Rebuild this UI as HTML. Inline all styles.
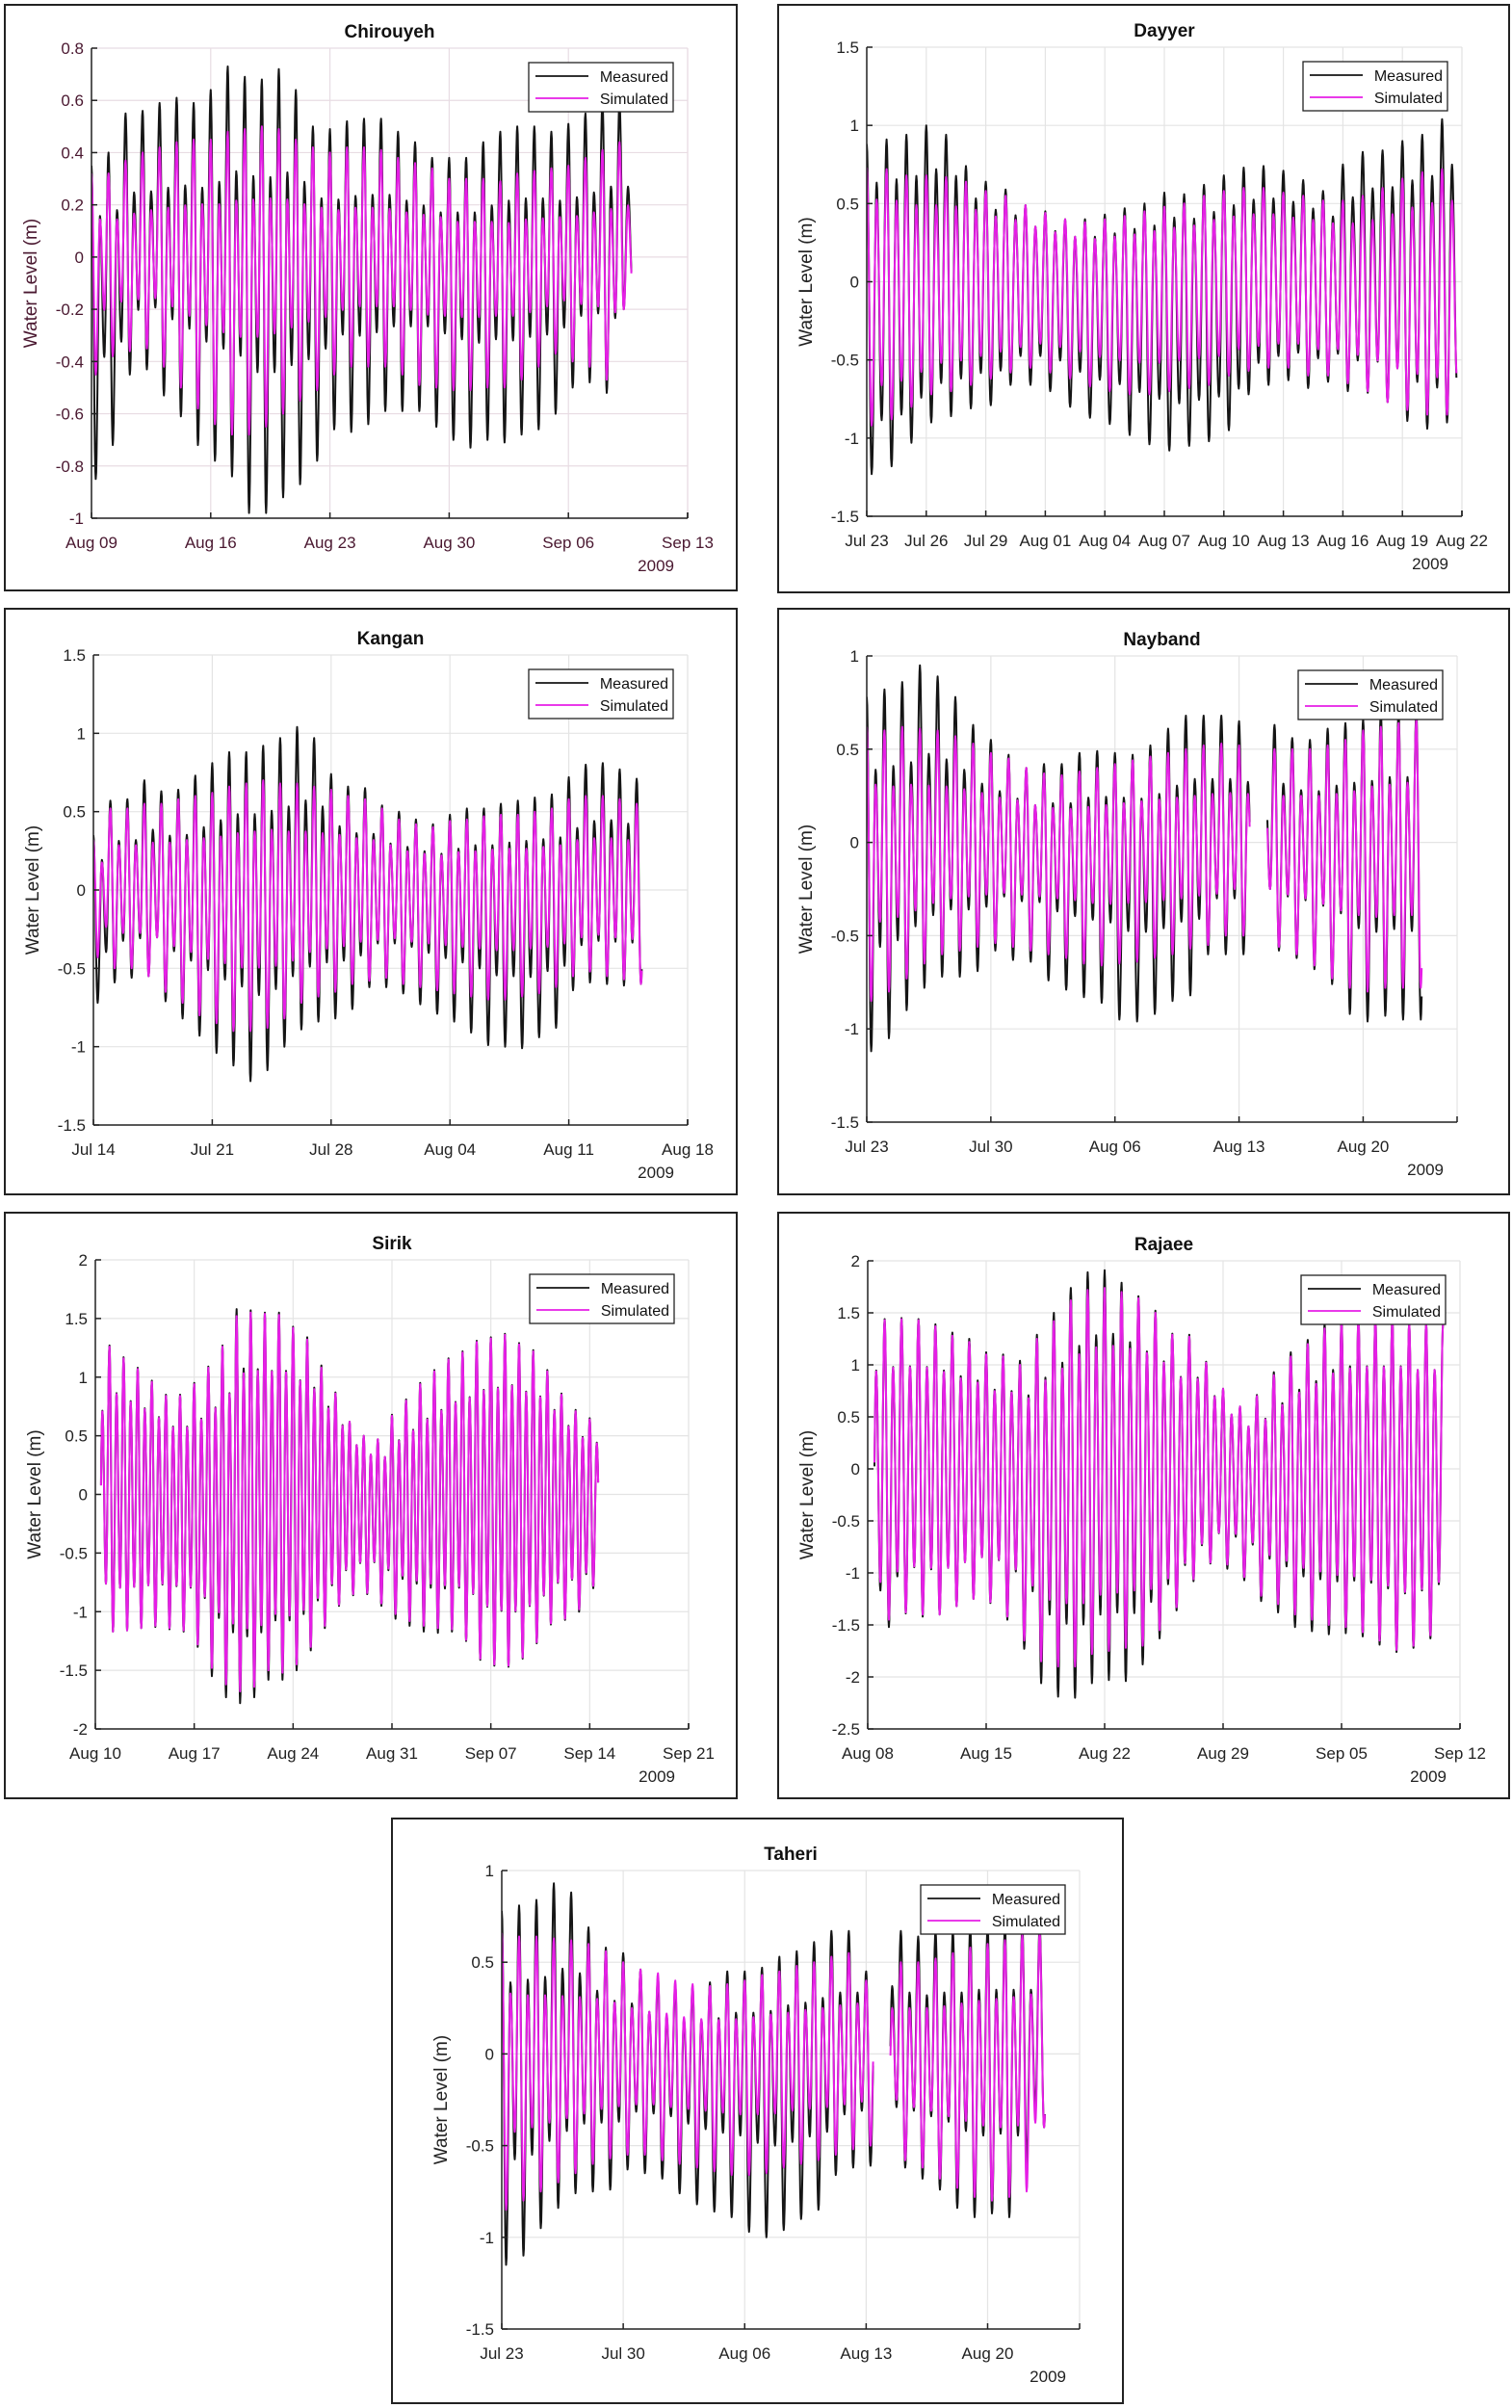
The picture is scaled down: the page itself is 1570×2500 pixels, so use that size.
<!DOCTYPE html>
<html><head><meta charset="utf-8"><title>Water Level Measured vs Simulated</title>
<style>
html,body{margin:0;padding:0;background:#fff;}
svg{display:block;font-family:"Liberation Sans",Arial,sans-serif;}
</style></head>
<body>
<svg id="fig" width="1570" height="2500" viewBox="0 0 1570 2500" xmlns="http://www.w3.org/2000/svg"></svg>
<script>
// ---------------- DATA (daily extremes, metres) ----------------
const chirouyehTicks = ["Aug 09","Aug 16","Aug 23","Aug 30","Sep 06","Sep 13"];
const chirouyehMeasHigh = [0.35,0.40,0.55,0.56,0.59,0.61,0.59,0.64,0.73,0.69,0.68,0.72,0.64,0.50,0.49,0.52,0.53,0.53,0.48,0.44,0.38,0.38,0.38,0.44,0.48,0.50,0.50,0.48,0.51,0.55,0.60,0.60];
const chirouyehMeasLow = [-0.85,-0.72,-0.45,-0.43,-0.53,-0.61,-0.72,-0.78,-0.84,-0.98,-0.98,-0.92,-0.87,-0.78,-0.66,-0.67,-0.64,-0.59,-0.59,-0.59,-0.65,-0.70,-0.73,-0.70,-0.71,-0.68,-0.66,-0.60,-0.50,-0.48,-0.52,-0.20];
const chirouyehSimHigh = [0.32,0.32,0.37,0.40,0.42,0.44,0.45,0.45,0.48,0.49,0.50,0.49,0.45,0.42,0.40,0.42,0.42,0.41,0.38,0.36,0.34,0.30,0.30,0.30,0.29,0.32,0.33,0.34,0.35,0.38,0.41,0.44];
const chirouyehSimLow = [-0.45,-0.38,-0.36,-0.35,-0.42,-0.50,-0.58,-0.64,-0.68,-0.68,-0.65,-0.60,-0.55,-0.51,-0.45,-0.42,-0.42,-0.42,-0.45,-0.49,-0.50,-0.51,-0.51,-0.50,-0.50,-0.47,-0.42,-0.37,-0.40,-0.42,-0.47,-0.20];

const dayyerTicks = ["Jul 23","Jul 26","Jul 29","Aug 01","Aug 04","Aug 07","Aug 10","Aug 13","Aug 16","Aug 19","Aug 22"];
const dayyerMeasHigh = [0.88,0.91,0.94,1.0,0.94,0.74,0.64,0.59,0.49,0.45,0.40,0.40,0.43,0.47,0.50,0.57,0.56,0.62,0.68,0.73,0.74,0.71,0.65,0.58,0.75,0.83,0.84,0.90,0.94,1.04];
const dayyerMeasLow = [-1.23,-1.18,-1.03,-0.90,-0.86,-0.81,-0.79,-0.66,-0.66,-0.70,-0.80,-0.87,-0.91,-0.98,-1.04,-1.08,-1.05,-1.02,-0.95,-0.72,-0.66,-0.63,-0.68,-0.64,-0.70,-0.71,-0.77,-0.89,-0.94,-0.90];
const dayyerSimHigh = [0.73,0.72,0.68,0.68,0.67,0.64,0.58,0.55,0.49,0.44,0.40,0.38,0.40,0.42,0.45,0.48,0.50,0.55,0.58,0.60,0.60,0.57,0.55,0.52,0.52,0.55,0.60,0.66,0.70,0.72];
const dayyerSimLow = [-0.92,-0.88,-0.80,-0.72,-0.70,-0.66,-0.62,-0.58,-0.55,-0.58,-0.62,-0.67,-0.70,-0.72,-0.72,-0.70,-0.68,-0.66,-0.60,-0.57,-0.55,-0.55,-0.60,-0.60,-0.65,-0.70,-0.77,-0.82,-0.85,-0.85];

const kanganTicks = ["Jul 14","Jul 21","Jul 28","Aug 04","Aug 11","Aug 18"];
const kanganMeasHigh = [0.35,0.57,0.58,0.70,0.63,0.64,0.73,0.81,0.88,0.88,0.92,0.97,1.04,0.97,0.74,0.66,0.65,0.54,0.50,0.45,0.42,0.48,0.52,0.52,0.55,0.57,0.59,0.61,0.72,0.80,0.81,0.77,0.71];
const kanganMeasLow = [-0.72,-0.59,-0.56,-0.55,-0.71,-0.82,-0.93,-1.04,-1.12,-1.22,-1.15,-1.00,-0.89,-0.84,-0.82,-0.76,-0.62,-0.62,-0.66,-0.73,-0.79,-0.84,-0.91,-0.99,-1.00,-1.01,-0.94,-0.88,-0.64,-0.59,-0.60,-0.61,-0.60];
const kanganSimHigh = [0.32,0.52,0.52,0.55,0.55,0.58,0.60,0.62,0.66,0.68,0.70,0.68,0.68,0.66,0.64,0.60,0.58,0.52,0.45,0.42,0.40,0.44,0.45,0.47,0.48,0.48,0.50,0.52,0.58,0.60,0.60,0.58,0.55];
const kanganSimLow = [-0.43,-0.50,-0.50,-0.55,-0.65,-0.72,-0.80,-0.85,-0.90,-0.90,-0.88,-0.82,-0.72,-0.68,-0.65,-0.60,-0.58,-0.56,-0.60,-0.62,-0.64,-0.66,-0.68,-0.70,-0.70,-0.68,-0.66,-0.62,-0.55,-0.52,-0.55,-0.57,-0.60];

const naybandTicks = ["Jul 23","Jul 30","Aug 06","Aug 13","Aug 20"];
const naybandMeasHigh = [0.78,0.82,0.86,0.95,0.89,0.78,0.63,0.55,0.47,0.40,0.42,0.42,0.48,0.49,0.48,0.47,0.52,0.61,0.68,0.68,0.68,0.65,0.63,0.63,0.56,0.55,0.61,0.64,0.66,0.70,0.70,0.70];
const naybandMeasLow = [-1.12,-1.05,-0.90,-0.78,-0.72,-0.72,-0.69,-0.58,-0.63,-0.64,-0.74,-0.79,-0.83,-0.86,-0.95,-0.96,-0.92,-0.85,-0.82,-0.60,-0.60,-0.60,-0.50,-0.58,-0.62,-0.68,-0.76,-0.92,-0.96,-0.93,-0.95,-0.95];
const naybandSimHigh = [0.62,0.60,0.62,0.61,0.60,0.57,0.53,0.48,0.45,0.40,0.37,0.36,0.38,0.40,0.42,0.44,0.46,0.48,0.50,0.52,0.53,0.52,0.50,0.50,0.50,0.50,0.52,0.55,0.60,0.62,0.64,0.66];
const naybandSimLow = [-0.85,-0.80,-0.73,-0.65,-0.60,-0.58,-0.56,-0.54,-0.56,-0.58,-0.60,-0.62,-0.65,-0.66,-0.65,-0.64,-0.62,-0.60,-0.57,-0.55,-0.50,-0.50,-0.50,-0.56,-0.60,-0.66,-0.73,-0.78,-0.80,-0.78,-0.78,-0.78];
const naybandGap = [21.6, 22.6];

const sirikTicks = ["Aug 10","Aug 17","Aug 24","Aug 31","Sep 07","Sep 14","Sep 21"];
const sirikMeasHigh = [1.05,1.27,1.17,1.08,0.97,0.85,0.85,0.95,1.09,1.27,1.58,1.57,1.55,1.55,1.43,1.34,1.10,0.87,0.62,0.50,0.47,0.68,0.81,0.95,1.06,1.16,1.22,1.31,1.34,1.37,1.29,1.23,1.06,0.86,0.72,0.65];
const sirikMeasLow = [-1.12,-1.17,-1.16,-1.14,-1.13,-1.15,-1.17,-1.30,-1.55,-1.73,-1.78,-1.73,-1.58,-1.58,-1.50,-1.33,-1.14,-0.95,-0.86,-0.85,-0.95,-1.06,-1.12,-1.17,-1.18,-1.17,-1.25,-1.41,-1.46,-1.47,-1.40,-1.27,-1.11,-1.07,-1.00,-0.80];
const sirikSimHigh = [1.04,1.26,1.16,1.07,0.96,0.84,0.84,0.94,1.08,1.26,1.52,1.55,1.54,1.53,1.42,1.32,1.08,0.86,0.62,0.50,0.47,0.67,0.80,0.94,1.05,1.15,1.21,1.30,1.33,1.36,1.28,1.22,1.05,0.85,0.71,0.64];
const sirikSimLow = [-1.12,-1.17,-1.16,-1.14,-1.12,-1.14,-1.16,-1.28,-1.48,-1.62,-1.68,-1.64,-1.50,-1.52,-1.45,-1.30,-1.12,-0.94,-0.85,-0.84,-0.93,-1.02,-1.08,-1.12,-1.14,-1.15,-1.24,-1.40,-1.45,-1.46,-1.39,-1.26,-1.10,-1.06,-0.98,-0.78];

const rajaeeTicks = ["Aug 08","Aug 15","Aug 22","Aug 29","Sep 05","Sep 12"];
const rajaeeMeasHigh = [1.39,1.44,1.45,1.44,1.39,1.31,1.25,1.12,1.10,1.04,1.29,1.50,1.74,1.89,1.91,1.79,1.66,1.52,1.30,1.29,1.03,0.77,0.60,0.71,0.93,1.12,1.24,1.40,1.45,1.45,1.45,1.45,1.40,1.40,1.40];
const rajaeeMeasLow = [-1.72,-1.52,-1.39,-1.42,-1.40,-1.32,-1.25,-1.29,-1.45,-1.73,-2.06,-2.19,-2.20,-2.06,-2.03,-2.04,-1.88,-1.63,-1.36,-1.08,-0.91,-0.96,-1.07,-1.27,-1.38,-1.52,-1.56,-1.59,-1.58,-1.61,-1.69,-1.76,-1.72,-1.63,-0.40];
const rajaeeSimHigh = [1.38,1.43,1.44,1.43,1.37,1.28,1.22,1.10,1.08,1.00,1.25,1.42,1.62,1.72,1.74,1.70,1.64,1.50,1.29,1.27,1.02,0.77,0.60,0.70,0.90,1.08,1.20,1.35,1.42,1.44,1.44,1.44,1.40,1.40,1.40];
const rajaeeSimLow = [-1.60,-1.45,-1.38,-1.40,-1.40,-1.32,-1.25,-1.28,-1.42,-1.65,-1.85,-1.90,-1.90,-1.78,-1.75,-1.72,-1.70,-1.55,-1.33,-1.06,-0.90,-0.92,-1.04,-1.22,-1.30,-1.40,-1.45,-1.50,-1.52,-1.57,-1.65,-1.74,-1.70,-1.60,-0.40];

const taheriTicks = ["Jul 23","Jul 30","Aug 06","Aug 13","Aug 20"];
const taheriMeasHigh = [0.78,0.81,0.84,0.93,0.88,0.69,0.58,0.55,0.46,0.42,0.38,0.37,0.39,0.45,0.45,0.47,0.53,0.56,0.61,0.67,0.67,0.45,0.74,0.67,0.64,0.67,0.67,0.70,0.70,0.70,0.70,0.70];
const taheriMeasLow = [-1.15,-1.10,-0.95,-0.84,-0.76,-0.75,-0.74,-0.63,-0.65,-0.68,-0.76,-0.82,-0.86,-0.89,-0.97,-1.00,-0.96,-0.90,-0.85,-0.66,-0.62,-0.61,-0.58,-0.62,-0.68,-0.74,-0.84,-0.89,-0.87,-0.89,-0.60,-0.40];
const taheriSimHigh = [0.66,0.64,0.64,0.63,0.62,0.60,0.56,0.50,0.46,0.44,0.40,0.38,0.37,0.38,0.40,0.43,0.45,0.48,0.50,0.53,0.55,0.40,0.50,0.50,0.50,0.52,0.55,0.58,0.60,0.62,0.65,0.66];
const taheriSimLow = [-0.85,-0.80,-0.75,-0.70,-0.65,-0.60,-0.57,-0.55,-0.55,-0.58,-0.60,-0.62,-0.64,-0.66,-0.66,-0.65,-0.62,-0.60,-0.58,-0.55,-0.52,-0.50,-0.50,-0.58,-0.62,-0.68,-0.73,-0.78,-0.80,-0.78,-0.75,-0.40];
const taheriGap = [21.4, 22.4];

// ---------------- LAYOUT ----------------
const NS = "http://www.w3.org/2000/svg";
const svg = document.getElementById('fig');
function mk(tag, attrs, parent){ const e=document.createElementNS(NS,tag); for(const k in attrs) e.setAttribute(k,attrs[k]); (parent||svg).appendChild(e); return e; }

const panels = [
 {key:'chirouyeh', title:'Chirouyeh', box:[5,5,760,608], L:95,R:714,T:50,B:538, days:35, tickStep:7, ymin:-1, ymax:0.8, ystep:0.2, start:0, end:31.7, r:0.45, ticks:chirouyehTicks, mh:chirouyehMeasHigh, ml:chirouyehMeasLow, sh:chirouyehSimHigh, sl:chirouyehSimLow, gap:null, txt:'#4a1830', grid:'#e8dce3'},
 {key:'dayyer', title:'Dayyer', box:[808,5,759,610], L:900,R:1518,T:49,B:536, days:30, tickStep:3, ymin:-1.5, ymax:1.5, ystep:0.5, start:0, end:29.9, r:0.72, ticks:dayyerTicks, mh:dayyerMeasHigh, ml:dayyerMeasLow, sh:dayyerSimHigh, sl:dayyerSimLow, gap:null, txt:'#222', grid:'#e4e4e4'},
 {key:'kangan', title:'Kangan', box:[5,632,760,608], L:97,R:714,T:680,B:1168, days:35, tickStep:7, ymin:-1.5, ymax:1.5, ystep:0.5, start:0, end:32.3, r:0.55, ticks:kanganTicks, mh:kanganMeasHigh, ml:kanganMeasLow, sh:kanganSimHigh, sl:kanganSimLow, gap:null, txt:'#222', grid:'#e4e4e4'},
 {key:'nayband', title:'Nayband', box:[808,632,759,608], L:900,R:1513,T:681,B:1165, days:33.3, tickStep:7, ymin:-1.5, ymax:1, ystep:0.5, start:0, end:31.3, r:0.5, ticks:naybandTicks, mh:naybandMeasHigh, ml:naybandMeasLow, sh:naybandSimHigh, sl:naybandSimLow, gap:naybandGap, txt:'#222', grid:'#e4e4e4'},
 {key:'sirik', title:'Sirik', box:[5,1259,760,608], L:99,R:715,T:1308,B:1795, days:42, tickStep:7, ymin:-2, ymax:2, ystep:0.5, start:0.4, end:35.6, r:0.68, ticks:sirikTicks, mh:sirikMeasHigh, ml:sirikMeasLow, sh:sirikSimHigh, sl:sirikSimLow, gap:null, txt:'#222', grid:'#e4e4e4'},
 {key:'rajaee', title:'Rajaee', box:[808,1259,759,608], L:901,R:1516,T:1309,B:1795, days:35, tickStep:7, ymin:-2.5, ymax:2, ystep:0.5, start:0.4, end:34.0, r:0.68, ticks:rajaeeTicks, mh:rajaeeMeasHigh, ml:rajaeeMeasLow, sh:rajaeeSimHigh, sl:rajaeeSimLow, gap:null, txt:'#222', grid:'#e4e4e4'},
 {key:'taheri', title:'Taheri', box:[407,1888,759,607], L:521,R:1121,T:1942,B:2418, days:33.3, tickStep:7, ymin:-1.5, ymax:1, ystep:0.5, start:0, end:31.3, r:0.5, ticks:taheriTicks, mh:taheriMeasHigh, ml:taheriMeasLow, sh:taheriSimHigh, sl:taheriSimLow, gap:taheriGap, txt:'#222', grid:'#e4e4e4'}
];

function fmt(v){ return Math.abs(v) < 1e-9 ? '0' : (Math.round(v*10)/10).toString(); }

function buildPath(p, hi, lo, xs, ys){
  const ext = [];
  for (let d=0; d<hi.length; d++){
    ext.push([d, hi[d]]);
    ext.push([d+0.25, lo[d]]);
    ext.push([d+0.5, hi[d]*p.r]);
    ext.push([d+0.75, lo[d]*p.r]);
  }
  let dstr = ''; let pen = false;
  for (let i=0;i<ext.length-1;i++){
    const [t0,v0]=ext[i], [t1,v1]=ext[i+1];
    for (let k=0;k<10;k++){
      const s=k/10, t=t0+(t1-t0)*s, v=v0+(v1-v0)*(1-Math.cos(Math.PI*s))/2;
      const out = t<p.start || t>p.end || (p.gap && t>p.gap[0] && t<p.gap[1]);
      if (out){ pen=false; continue; }
      dstr += (pen?'L':'M') + xs(t).toFixed(1) + ',' + ys(v).toFixed(1);
      pen = true;
    }
  }
  return dstr;
}

panels.forEach(p => {
  const g = mk('g', {});
  
  
  const [bx,by,bw,bh] = p.box;
  const frame = mk('rect', {x:bx, y:by, width:bw, height:bh, fill:'#fff', stroke:'#222', 'stroke-width':2}, g);
  
  

  const xs = t => p.L + (p.R - p.L) * t / p.days;
  const ys = v => p.B - (p.B - p.T) * (v - p.ymin) / (p.ymax - p.ymin);

  const grid = mk('g', {stroke:p.grid, 'stroke-width':1.2}, g);
  
  
  const nY = Math.round((p.ymax - p.ymin)/p.ystep);
  for (let i=0;i<=nY;i++){
    const y = ys(p.ymin + i*p.ystep);
    mk('line', {x1:p.L, x2:p.R, y1:y, y2:y}, grid);
  }
  p.ticks.forEach((lab, i) => {
    const x = xs(i*p.tickStep);
    mk('line', {x1:x, x2:x, y1:p.T, y2:p.B}, grid);
  });
  mk('line', {x1:p.R, x2:p.R, y1:p.T, y2:p.B}, grid);

  const cid = 'clip-' + p.key;
  const cp = mk('clipPath', {id:cid}, g);
  mk('rect', {x:p.L, y:p.T, width:p.R-p.L, height:p.B-p.T}, cp);

  const meas = mk('path', {d:buildPath(p, p.mh, p.ml, xs, ys), fill:'none', stroke:'#151515', 'stroke-width':2, 'stroke-linejoin':'round', 'clip-path':'url(#'+cid+')'}, g);
  
  
  const sim = mk('path', {d:buildPath(p, p.sh, p.sl, xs, ys), fill:'none', stroke:'#e61ee6', 'stroke-width':2, 'stroke-linejoin':'round', 'clip-path':'url(#'+cid+')'}, g);
  
  

  const ax = mk('g', {stroke:'#222', 'stroke-width':1.5}, g);
  
  
  mk('line', {x1:p.L, x2:p.L, y1:p.T, y2:p.B}, ax);
  mk('line', {x1:p.L, x2:p.R, y1:p.B, y2:p.B}, ax);
  for (let i=0;i<=nY;i++){ const y=ys(p.ymin+i*p.ystep); mk('line',{x1:p.L,x2:p.L+6,y1:y,y2:y},ax); }
  p.ticks.forEach((lab,i)=>{ const x=xs(i*p.tickStep); mk('line',{x1:x,x2:x,y1:p.B,y2:p.B-6},ax); });
  mk('line',{x1:p.R,x2:p.R,y1:p.B,y2:p.B-6},ax);

  for (let i=0;i<=nY;i++){
    const v = p.ymin + i*p.ystep;
    const t = mk('text', {x:p.L-8, y:ys(v)+6, 'text-anchor':'end', 'font-size':17, fill:p.txt}, g);
    t.textContent = fmt(v);
    
    
  }
  p.ticks.forEach((lab,i)=>{
    const t = mk('text', {x:xs(i*p.tickStep), y:p.B+31, 'text-anchor':'middle', 'font-size':17, fill:p.txt}, g);
    t.textContent = lab;
    
    
  });
  const yr = mk('text', {x:p.R-14, y:p.B+55, 'text-anchor':'end', 'font-size':17, fill:p.txt}, g);
  yr.textContent = '2009';
  
  

  const ti = mk('text', {x:(p.L+p.R)/2, y:p.T-11, 'text-anchor':'middle', 'font-size':19, 'font-weight':'bold', fill:'#111'}, g);
  ti.textContent = p.title;
  
  

  const cy = (p.T+p.B)/2, cx = p.L-57;
  const yl = mk('text', {x:cx, y:cy, 'text-anchor':'middle', 'font-size':19, fill:p.txt, transform:'rotate(-90 '+cx+' '+cy+')'}, g);
  yl.textContent = 'Water Level (m)';
  
  

  const lw=150, lh=51, lx=p.R-15-lw, ly=p.T+15;
  const lg = mk('g', {}, g);
  
  
  mk('rect', {x:lx, y:ly, width:lw, height:lh, fill:'#fff', stroke:'#222', 'stroke-width':1.3}, lg);
  mk('line', {x1:lx+7, x2:lx+62, y1:ly+14, y2:ly+14, stroke:'#151515', 'stroke-width':1.8}, lg);
  mk('line', {x1:lx+7, x2:lx+62, y1:ly+37, y2:ly+37, stroke:'#e61ee6', 'stroke-width':1.8}, lg);
  const t1 = mk('text', {x:lx+lw-5, y:ly+20, 'text-anchor':'end', 'font-size':16, fill:'#111'}, lg);
  t1.textContent = 'Measured';
  
  
  const t2 = mk('text', {x:lx+lw-5, y:ly+43, 'text-anchor':'end', 'font-size':16, fill:'#111'}, lg);
  t2.textContent = 'Simulated';
  
  
});
</script>
</body></html>
